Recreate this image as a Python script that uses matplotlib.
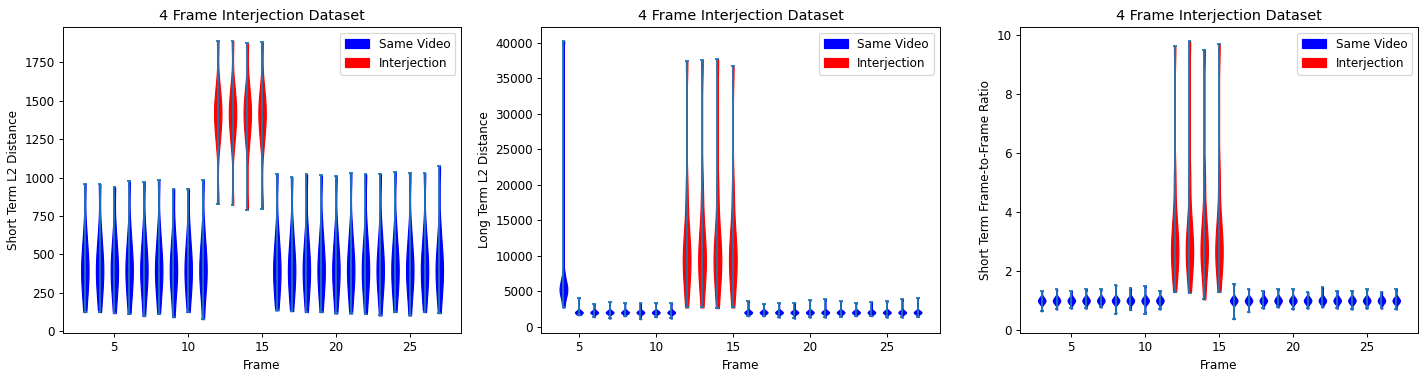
import numpy as np
import matplotlib.pyplot as plt
import matplotlib.patches as mpatches

# frames shown on each panel
frames_short = list(range(3, 28))
frames_long = list(range(4, 28))
frames_ratio = list(range(3, 28))
interjection_frames = [12, 13, 14, 15]

# short term L2 distance: extremes per frame, deciles in between
short_min = [124, 124, 117, 113, 98, 113, 91, 124, 78, 830, 822, 791, 796,
             135, 130, 124, 124, 115, 115, 113, 102, 124, 102, 124, 117]
short_max = [959, 959, 939, 980, 970, 985, 928, 928, 985, 1889, 1889, 1876, 1880,
             1020, 1004, 1020, 1015, 1009, 1030, 1022, 1026, 1037, 1030, 1030, 1076]
short_same_mid = [220, 280, 330, 375, 415, 455, 505, 570, 670]
short_inter_mid = [1200, 1280, 1330, 1380, 1415, 1450, 1490, 1540, 1620]

# long term L2 distance
long_min = [2720, 1640, 1360, 1172, 1500, 1078, 1360, 1172, 2720, 2720, 2626, 2720,
            1500, 1500, 1313, 1172, 1313, 1313, 1407, 1500, 1500, 1313, 1313, 1407]
long_max = [40234, 4080, 3236, 3517, 3376, 3376, 3376, 3376, 37420, 37514, 37655, 36717,
            3611, 3236, 3376, 3376, 3751, 3892, 3611, 3376, 3517, 3611, 3892, 4080]
long_first_mid = [3900, 4400, 4800, 5100, 5400, 5700, 6100, 6600, 7500]
long_same_mid = [1750, 1850, 1920, 1980, 2030, 2080, 2140, 2220, 2350]
long_inter_mid = [5500, 7000, 8200, 9200, 10200, 11300, 12800, 15000, 19500]

# short term frame-to-frame ratio
ratio_min = [0.64, 0.70, 0.73, 0.73, 0.77, 0.56, 0.68, 0.56, 0.70, 1.29, 1.27, 1.04, 1.29,
             0.37, 0.61, 0.73, 0.77, 0.70, 0.73, 0.77, 0.73, 0.70, 0.73, 0.73, 0.70]
ratio_max = [1.33, 1.38, 1.33, 1.38, 1.38, 1.53, 1.41, 1.50, 1.33, 9.63, 9.81, 9.51, 9.71,
             1.57, 1.40, 1.33, 1.40, 1.40, 1.29, 1.45, 1.33, 1.33, 1.38, 1.30, 1.40]
ratio_same_mid = [0.88, 0.92, 0.95, 0.98, 1.00, 1.02, 1.05, 1.08, 1.13]
ratio_inter_mid = [1.9, 2.2, 2.45, 2.65, 2.9, 3.15, 3.5, 4.0, 5.2]


def robust_bw(kde):
    # silverman rule with IQR, so a single outlier does not blur the body
    d = kde.dataset[0]
    std = np.std(d, ddof=1)
    iqr = np.subtract(*np.percentile(d, [75, 25]))
    h = 0.9 * min(std, iqr / 1.34) * len(d) ** (-0.2)
    return h / std


def build(frames, mins, maxs, same_mid, inter_mid, first_mid=None):
    data = []
    for i, f in enumerate(frames):
        if f in interjection_frames:
            mid = inter_mid
        elif first_mid is not None and i == 0:
            mid = first_mid
        else:
            mid = same_mid
        data.append([mins[i]] + mid + [maxs[i]])
    return data


def panel(ax, frames, data, ylabel):
    parts = ax.violinplot(data, positions=frames, bw_method=robust_bw)
    for f, body in zip(frames, parts['bodies']):
        c = 'red' if f in interjection_frames else 'blue'
        body.set_facecolor(c)
        body.set_edgecolor(c)
        body.set_alpha(1)
    ax.set_title('4 Frame Interjection Dataset')
    ax.set_xlabel('Frame')
    ax.set_ylabel(ylabel)
    handles = [mpatches.Patch(color='blue', label='Same Video'),
               mpatches.Patch(color='red', label='Interjection')]
    ax.legend(handles=handles, loc='upper right')


DPI = 86
fig, axs = plt.subplots(1, 3, figsize=(1426 / DPI, 371 / DPI), dpi=DPI)
fig.subplots_adjust(left=0.0442, right=0.9944, bottom=0.1024, top=0.927, wspace=0.202)

panel(axs[0], frames_short,
      build(frames_short, short_min, short_max, short_same_mid, short_inter_mid),
      'Short Term L2 Distance')
panel(axs[1], frames_long,
      build(frames_long, long_min, long_max, long_same_mid, long_inter_mid, long_first_mid),
      'Long Term L2 Distance')
panel(axs[2], frames_ratio,
      build(frames_ratio, ratio_min, ratio_max, ratio_same_mid, ratio_inter_mid),
      'Short Term Frame-to-Frame Ratio')

fig.savefig('out.png', dpi=DPI)
